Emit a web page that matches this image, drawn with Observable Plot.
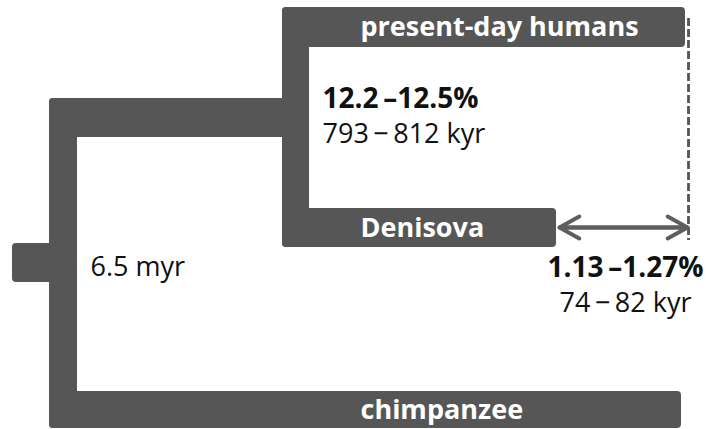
<!DOCTYPE html>
<html>
<head>
<meta charset="utf-8">
<script src="https://cdn.jsdelivr.net/npm/d3@7"></script>
<script src="https://cdn.jsdelivr.net/npm/@observablehq/plot@0.6"></script>
<style>
  html, body { margin: 0; padding: 0; background: #fff; }
  #chart svg { display: block; }
</style>
</head>
<body>
<div id="chart"></div>
<script>
// Tree branches (diagram coordinates, x to the right, y downward)
const branchNames = ["root", "outgroup stem", "ingroup stem", "hominin split", "present-day humans", "Denisova", "chimpanzee"];
const branchX1 = [12, 49, 49, 282, 282, 282, 49];
const branchX2 = [60, 77, 309, 309, 685, 556, 681];
const branchY1 = [243, 98, 98, 7, 7, 208, 391];
const branchY2 = [282, 428, 137, 247, 47, 247, 428];

// Tip labels
const tipLabels = ["present-day humans", "Denisova", "chimpanzee"];
const tipLabelX = [360, 360, 360];
const tipLabelY = [27, 228, 410];

// Divergence annotations
const splitBold = ["12.2\u2009\u201312.5%"];
const splitTime = ["793\u2009\u2212\u2009812 kyr"];
const splitX = [322];
const splitY = [99, 134];
const presentBold = ["1.13\u2009\u20131.27%"];
const presentTime = ["74\u2009\u2212\u200982 kyr"];
const presentLabelX = [625];
const presentLabelY = [268, 303];
const rootLabel = ["6.5 myr"];
const rootLabelX = [90];
const rootLabelY = [267];

// Present-day reference line and Denisova-to-present arrow
const presentX = [688];
const presentY = [18, 240];
const arrowX = [559, 687];
const arrowY = [227];

const fill = "#565656";
const ink = "#111";
const font = "Open Sans";

const branches = branchNames.map((n, i) => ({n, x1: branchX1[i], x2: branchX2[i], y1: branchY1[i], y2: branchY2[i]}));
const tips = tipLabels.map((t, i) => ({t, x: tipLabelX[i], y: tipLabelY[i]}));

const chart = Plot.plot({
  width: 723,
  height: 429,
  margin: 0,
  x: {domain: [0, 723], range: [0, 723], axis: null},
  y: {domain: [0, 429], range: [0, 429], axis: null},
  style: {background: "#fff"},
  marks: [
    Plot.rect(branches, {x1: "x1", x2: "x2", y1: "y1", y2: "y2", fill, rx: 4}),
    Plot.ruleX(presentX, {x: d => d, y1: presentY[0], y2: presentY[1], stroke: "#555", strokeWidth: 2.8, strokeDasharray: "8,3"}),
    Plot.arrow([0], {x1: arrowX[1], x2: arrowX[0], y1: arrowY[0], y2: arrowY[0], stroke: "#5e5e5e", strokeWidth: 4, headLength: 8.5, headAngle: 58, strokeLinecap: "round", strokeLinejoin: "round"}),
    Plot.arrow([0], {x1: arrowX[0], x2: arrowX[1], y1: arrowY[0], y2: arrowY[0], stroke: "#5e5e5e", strokeWidth: 4, headLength: 8.5, headAngle: 58, strokeLinecap: "round", strokeLinejoin: "round"}),
    Plot.text(tips, {x: "x", y: "y", text: "t", textAnchor: "start", lineAnchor: "middle", fill: "#fff", fontSize: 27, fontWeight: "bold", fontFamily: font}),
    Plot.text(splitBold, {x: splitX[0], y: splitY[0], text: d => d, textAnchor: "start", lineAnchor: "middle", fill: ink, fontSize: 28, fontWeight: "bold", fontFamily: font}),
    Plot.text(splitTime, {x: splitX[0], y: splitY[1], text: d => d, textAnchor: "start", lineAnchor: "middle", fill: ink, fontSize: 27, fontFamily: font}),
    Plot.text(presentBold, {x: presentLabelX[0], y: presentLabelY[0], text: d => d, textAnchor: "middle", lineAnchor: "middle", fill: ink, fontSize: 28, fontWeight: "bold", fontFamily: font}),
    Plot.text(presentTime, {x: presentLabelX[0], y: presentLabelY[1], text: d => d, textAnchor: "middle", lineAnchor: "middle", fill: ink, fontSize: 27, fontFamily: font}),
    Plot.text(rootLabel, {x: rootLabelX[0], y: rootLabelY[0], text: d => d, textAnchor: "start", lineAnchor: "middle", fill: ink, fontSize: 27, fontFamily: font})
  ]
});
document.getElementById("chart").appendChild(chart);
</script>
</body>
</html>
